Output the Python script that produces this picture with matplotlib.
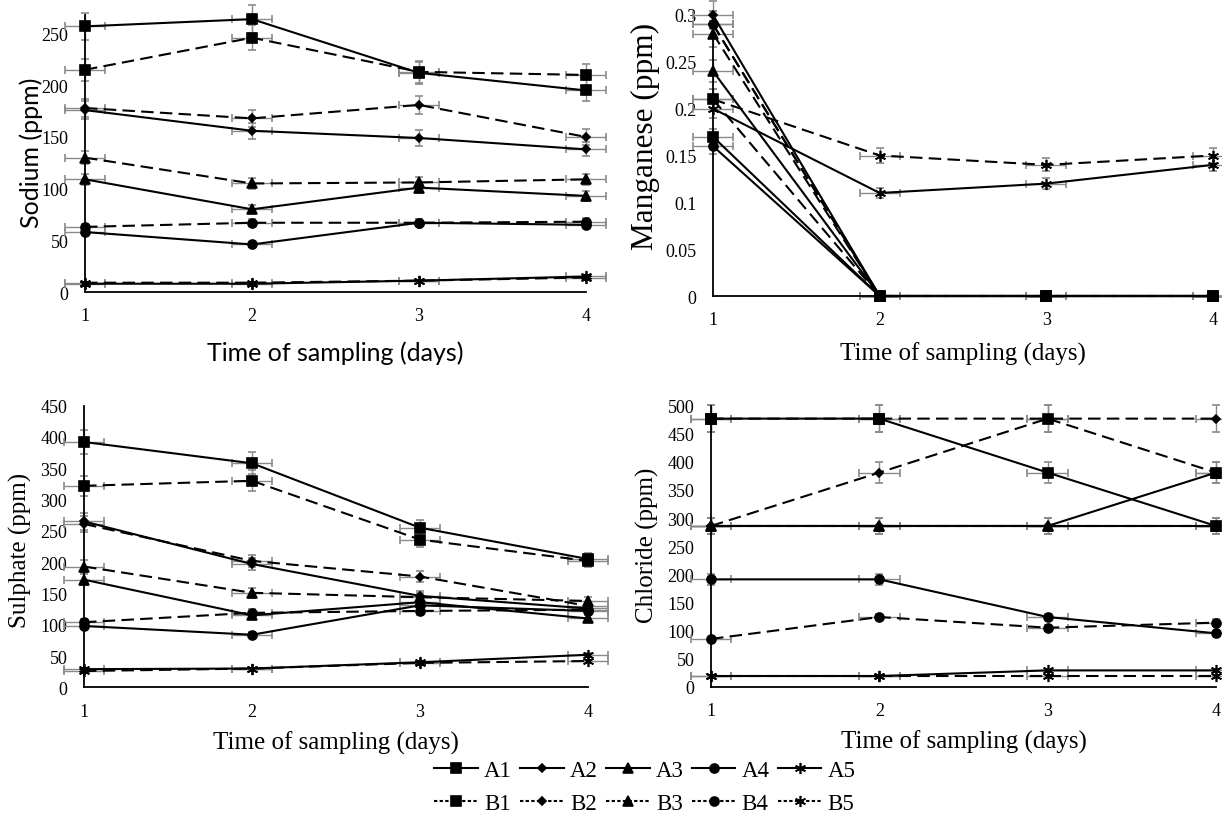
import matplotlib.pyplot as plt
from matplotlib.lines import Line2D

days = [1, 2, 3, 4]
series = ["A1", "A2", "A3", "A4", "A5", "B1", "B2", "B3", "B4", "B5"]

# Sodium (ppm)
sodium = {
    "A1": [257, 264, 212, 195],
    "A2": [176, 156, 149, 138],
    "A3": [109, 80, 101, 93],
    "A4": [58, 46, 67, 65],
    "A5": [8, 8, 11, 15],
    "B1": [215, 246, 213, 210],
    "B2": [178, 168, 181, 150],
    "B3": [130, 105, 106, 109],
    "B4": [63, 67, 67, 68],
    "B5": [9, 9, 11, 14],
}

# Manganese (ppm)
manganese = {
    "A1": [0.17, 0, 0, 0],
    "A2": [0.30, 0, 0, 0],
    "A3": [0.24, 0, 0, 0],
    "A4": [0.16, 0, 0, 0],
    "A5": [0.20, 0.11, 0.12, 0.14],
    "B1": [0.21, 0, 0, 0],
    "B2": [0.29, 0, 0, 0],
    "B3": [0.28, 0, 0, 0],
    "B4": [0.29, 0, 0, 0],
    "B5": [0.21, 0.15, 0.14, 0.15],
}

# Sulphate (ppm)
sulphate = {
    "A1": [392, 358, 255, 205],
    "A2": [265, 197, 146, 126],
    "A3": [172, 115, 136, 110],
    "A4": [98, 84, 131, 122],
    "A5": [29, 30, 40, 52],
    "B1": [322, 330, 236, 202],
    "B2": [261, 202, 177, 130],
    "B3": [193, 151, 144, 138],
    "B4": [104, 119, 122, 124],
    "B5": [26, 30, 39, 42],
}

# Chloride (ppm)
chloride = {
    "A1": [477, 477, 381, 286],
    "A2": [286, 286, 286, 286],
    "A3": [286, 286, 286, 381],
    "A4": [191, 191, 124, 95],
    "A5": [19, 19, 29, 29],
    "B1": [477, 477, 477, 381],
    "B2": [286, 381, 477, 477],
    "B3": [286, 286, 286, 286],
    "B4": [85, 124, 105, 114],
    "B5": [19, 19, 19, 19],
}

markers = {"1": "s", "2": "D", "3": "^", "4": "o", "5": (6, 2, 0)}
msizes = {"1": 6.5, "2": 4.5, "3": 6.5, "4": 6.5, "5": 8}

serif = "Liberation Serif"
sans = "Lato"


def style(name, dash=(6, 3)):
    ls = "-" if name[0] == "A" else (0, dash)
    return dict(color="black", linestyle=ls, linewidth=1.5,
                marker=markers[name[1]], markersize=msizes[name[1]],
                markeredgewidth=1.2)


def draw(ax, data, ymax, yticks, ylabel, fam, ysize, ylab_pos, xlab_pos,
         ticklabels=None):
    for name in series:
        vals = data[name]
        ax.errorbar(days, vals, xerr=0.12, yerr=[v * 0.05 for v in vals],
                    ecolor="#8a8a8a", elinewidth=1, capsize=3, capthick=1,
                    zorder=3, **style(name))
    ax.set_xlim(1, 4)
    ax.set_ylim(0, ymax)
    ax.set_xticks(days)
    ax.set_yticks(yticks)
    if ticklabels is not None:
        ax.set_yticklabels(ticklabels)
    for s in ["top", "right"]:
        ax.spines[s].set_visible(False)
    for s in ["left", "bottom"]:
        ax.spines[s].set_linewidth(1.3)
        ax.spines[s].set_zorder(5)
    ax.tick_params(length=0, labelsize=13)
    ax.tick_params(axis="x", pad=11)
    ax.tick_params(axis="y", pad=12)
    for lab in ax.get_xticklabels() + ax.get_yticklabels():
        lab.set_fontfamily(serif)
    ax.set_ylabel(ylabel, fontsize=ysize, fontfamily=fam)
    ax.yaxis.set_label_coords(*ylab_pos)
    ax.set_xlabel("Time of sampling (days)", fontsize=18, fontfamily=fam)
    ax.xaxis.set_label_coords(*xlab_pos)
    for c in ax.get_children():
        c.set_clip_on(False)


fig = plt.figure(figsize=(12.22, 8.2), dpi=100)

W, H = 1222, 820


def add_axes(x0, x1, ytop, ybot):
    return fig.add_axes([x0 / W, 1 - ybot / H, (x1 - x0) / W, (ybot - ytop) / H])


ax1 = add_axes(85, 586, 16, 293)
draw(ax1, sodium, 268, range(0, 251, 50), "Sodium (ppm)", sans, 18,
     (-0.084, 0.505), (0.5, -0.173))

ax2 = add_axes(713, 1213, 16, 297)
mn_ticks = [0, 0.05, 0.1, 0.15, 0.2, 0.25, 0.3]
draw(ax2, manganese, 0.3, mn_ticks, "Manganese (ppm)", serif, 22.5,
     (-0.106, 0.57), (0.5, -0.164),
     ticklabels=["0", "0.05", "0.1", "0.15", "0.2", "0.25", "0.3"])

ax3 = add_axes(84, 588, 406.7, 688.3)
draw(ax3, sulphate, 450, range(0, 451, 50), "Sulphate (ppm)", serif, 18,
     (-0.103, 0.491), (0.5, -0.152))

ax4 = add_axes(711, 1216, 406.7, 687.7)
draw(ax4, chloride, 500, range(0, 501, 50), "Chloride (ppm)", serif, 18,
     (-0.102, 0.508), (0.5, -0.154))

# legend: A series on the first row, B series on the second
handles, labels = [], []
for i in range(5):
    for name in (series[i], series[i + 5]):
        handles.append(Line2D([], [], **style(name, dash=(1.6, 1.1))))
        labels.append(name)
fig.legend(handles, labels, ncol=5, loc="center",
           bbox_to_anchor=(645 / W, 1 - 788 / H),
           frameon=False, prop={"family": serif, "size": 16.5},
           handlelength=1.9, handletextpad=0.27, columnspacing=0.36,
           labelspacing=0.5, borderaxespad=0)

fig.savefig("out.png", dpi=100)
